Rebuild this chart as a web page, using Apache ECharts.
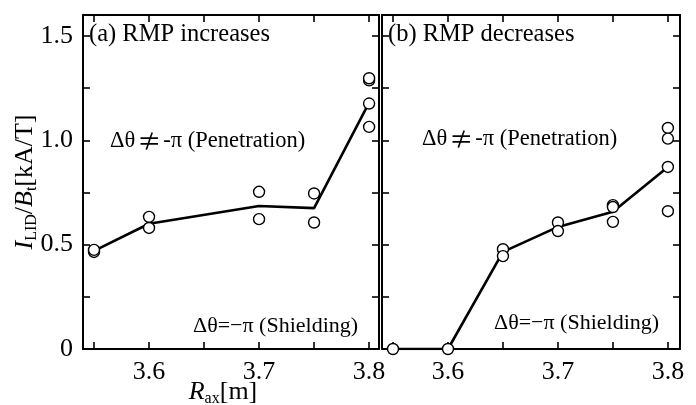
<!DOCTYPE html>
<html>
<head>
<meta charset="utf-8">
<script src="https://cdn.jsdelivr.net/npm/echarts@6/dist/echarts.min.js"></script>
<style>html,body{margin:0;padding:0;background:#fff;}#c{width:696px;height:405px;}</style>
</head>
<body>
<div id="c"></div>
<script>
// ---- data ----
const lineA_x = [3.55, 3.60, 3.70, 3.75, 3.80];
const lineA_y = [0.47, 0.60, 0.685, 0.675, 1.18];
const ptsA_x = [3.55, 3.55, 3.60, 3.60, 3.70, 3.70, 3.75, 3.75, 3.80, 3.80, 3.80, 3.80];
const ptsA_y = [0.465, 0.475, 0.633, 0.580, 0.753, 0.622, 0.745, 0.606, 1.287, 1.297, 1.176, 1.064];
const lineB_x = [3.55, 3.60, 3.65, 3.70, 3.75, 3.80];
const lineB_y = [0.0, 0.0, 0.465, 0.585, 0.657, 0.872];
const ptsB_x = [3.55, 3.60, 3.65, 3.65, 3.70, 3.70, 3.75, 3.75, 3.75, 3.80, 3.80, 3.80, 3.80];
const ptsB_y = [0.0, 0.0, 0.478, 0.445, 0.606, 0.565, 0.689, 0.680, 0.609, 1.059, 1.008, 0.872, 0.660];
const xTicks = [3.55, 3.60, 3.65, 3.70, 3.75, 3.80];
const xLabels = [3.6, 3.7, 3.8];
const yTicks = [0, 0.25, 0.5, 0.75, 1.0, 1.25, 1.5];
const yLabels = [0, 0.5, 1.0, 1.5];
const panelTitles = ['(a) RMP increases', '(b) RMP decreases'];
const penParts = ['Δθ', '≠', '-π (Penetration)'];
const shieldText = 'Δθ=−π (Shielding)';

const zip = (xs, ys) => xs.map((x, i) => [x, ys[i]]);
const FONT = 'Liberation Serif';
const axisLine = {show: true, onZero: false, lineStyle: {color: '#000', width: 2}};
const tick = {show: true, inside: true, length: 7, customValues: xTicks, lineStyle: {color: '#000', width: 1.6}};
const ytick = {show: true, inside: true, length: 7, customValues: yTicks, lineStyle: {color: '#000', width: 1.6}};
const xLab = {show: true, customValues: xLabels, margin: 10, fontFamily: FONT, fontSize: 26, color: '#000',
  formatter: v => v.toFixed(1)};
const yLab = {show: true, customValues: yLabels, margin: 10, fontFamily: FONT, fontSize: 26, color: '#000',
  formatter: v => v === 0 ? '0' : v.toFixed(1)};

function xAx(grid, max, pos, lab) {
  return {type: 'value', gridIndex: grid, min: 3.54, max: max, position: pos,
    axisLine: axisLine, axisTick: tick, axisLabel: lab ? xLab : {show: false}, splitLine: {show: false}};
}
function yAx(grid, pos, lab) {
  return {type: 'value', gridIndex: grid, min: 0, max: 1.6, position: pos,
    axisLine: axisLine, axisTick: ytick, axisLabel: lab ? yLab : {show: false}, splitLine: {show: false}};
}

const chart = echarts.init(document.getElementById('c'), null, {renderer: 'canvas'});
const lineStyle = {color: '#000', width: 2.6};
const sym = {symbol: 'circle', symbolSize: 11, itemStyle: {color: '#fff', borderColor: '#000', borderWidth: 1.4, opacity: 1}};

function txt(text, x, y, size) {
  return {type: 'text', x: x, y: y, z: 10,
    style: {text: text, x: 0, y: 0, fontFamily: FONT, fontSize: size, fill: '#000',
      textAlign: 'left', textVerticalAlign: 'middle'}};
}
function pen(x, y) {
  return {type: 'text', x: x, y: y, z: 10,
    style: {text: '{g|' + penParts[0] + '}{ne|' + penParts[1] + '}{g|' + penParts[2] + '}', x: 0, y: 0,
      textAlign: 'left', textVerticalAlign: 'middle',
      rich: {
        g: {fontFamily: FONT, fontSize: 22.5, fill: '#000', lineHeight: 28, verticalAlign: 'middle'},
        ne: {fontFamily: 'Noto Sans CJK JP', fontSize: 24, fill: '#000', lineHeight: 28, verticalAlign: 'middle', padding: [0, 2, 0, 2]}
      }}};
}
const richT = {
  i: {fontFamily: FONT, fontSize: 26, fontStyle: 'italic', fill: '#000', lineHeight: 30, verticalAlign: 'middle'},
  n: {fontFamily: FONT, fontSize: 26, fill: '#000', lineHeight: 30, verticalAlign: 'middle'},
  s: {fontFamily: FONT, fontSize: 16, fill: '#000', lineHeight: 30, verticalAlign: 'bottom'}
};

chart.setOption({
  animation: false,
  backgroundColor: '#fff',
  grid: [
    {left: 83, top: 15, width: 296, height: 334},
    {left: 382, top: 15, width: 298, height: 334}
  ],
  xAxis: [
    xAx(0, 3.809, 'bottom', true), xAx(0, 3.809, 'top', false),
    xAx(1, 3.811, 'bottom', true), xAx(1, 3.811, 'top', false)
  ],
  yAxis: [
    yAx(0, 'left', true), yAx(0, 'right', false),
    yAx(1, 'left', false), yAx(1, 'right', false)
  ],
  series: [
    {type: 'line', xAxisIndex: 0, yAxisIndex: 0, data: zip(lineA_x, lineA_y), showSymbol: false, lineStyle: lineStyle, z: 2},
    Object.assign({type: 'scatter', xAxisIndex: 0, yAxisIndex: 0, data: zip(ptsA_x, ptsA_y), clip: false, z: 3}, sym),
    {type: 'line', xAxisIndex: 2, yAxisIndex: 2, data: zip(lineB_x, lineB_y), showSymbol: false, lineStyle: lineStyle, z: 2},
    Object.assign({type: 'scatter', xAxisIndex: 2, yAxisIndex: 2, data: zip(ptsB_x, ptsB_y), clip: false, z: 3}, sym)
  ],
  graphic: [
    txt(panelTitles[0], 89, 35, 24.5),
    txt(panelTitles[1], 388, 35, 24.5),
    pen(110, 141),
    pen(422, 139),
    txt(shieldText, 193, 326, 22),
    txt(shieldText, 494, 323, 22),
    {type: 'text', x: 25, y: 182, rotation: Math.PI / 2, z: 10,
      style: {text: '{i|I}{s|LID}{n|/}{i|B}{s|t}{n|[kA/T]}', x: 0, y: 0, textAlign: 'center', textVerticalAlign: 'middle', rich: richT}},
    {type: 'text', x: 223, y: 392, z: 10,
      style: {text: '{i|R}{s|ax}{n|[m]}', x: 0, y: 0, textAlign: 'center', textVerticalAlign: 'middle', rich: richT}}
  ]
});
</script>
</body>
</html>
